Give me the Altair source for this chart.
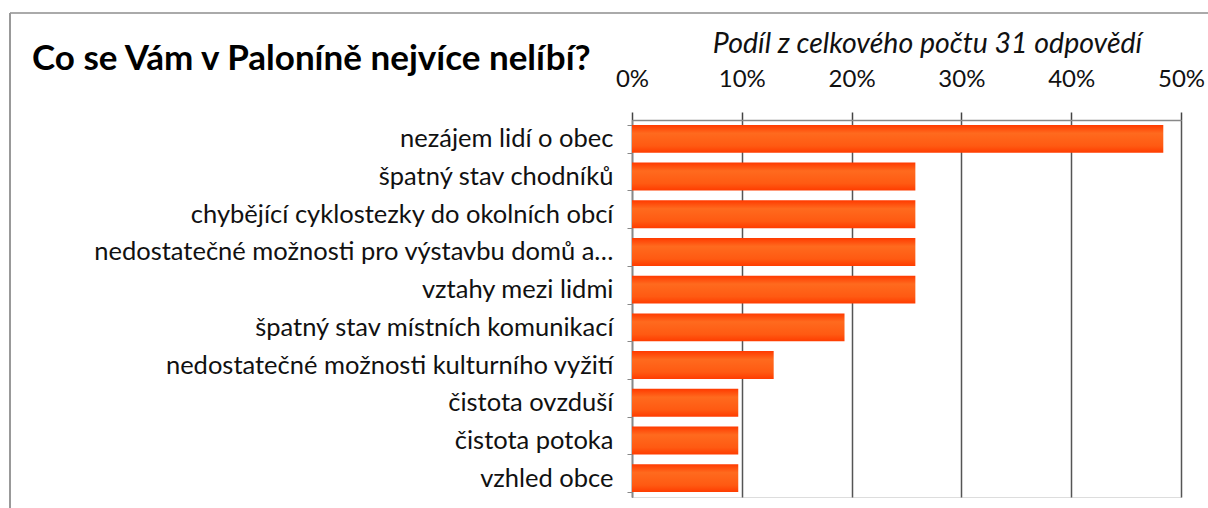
import altair as alt
import pandas as pd

categories = [
    "nezájem lidí o obec",
    "špatný stav chodníků",
    "chybějící cyklostezky do okolních obcí",
    "nedostatečné možnosti pro výstavbu domů a…",
    "vztahy mezi lidmi",
    "špatný stav místních komunikací",
    "nedostatečné možnosti kulturního vyžití",
    "čistota ovzduší",
    "čistota potoka",
    "vzhled obce",
]
counts = [15, 8, 8, 8, 8, 6, 4, 3, 3, 3]
total_responses = 31
tick_values = [0, 0.1, 0.2, 0.3, 0.4, 0.5]

df = pd.DataFrame({"kategorie": categories, "pocet": counts})
df["podil"] = df["pocet"] / total_responses

FONT = "Lato"

bar_fill = alt.Gradient(
    gradient="linear",
    x1=0, x2=0, y1=0, y2=1,
    stops=[
        alt.GradientStop(color="#FF3A00", offset=0),
        alt.GradientStop(color="#FF6A1E", offset=0.3),
        alt.GradientStop(color="#FF5A12", offset=0.75),
        alt.GradientStop(color="#FF3C00", offset=1),
    ],
)

bars = alt.Chart(df).mark_bar(color=bar_fill).encode(
    y=alt.Y(
        "kategorie:N",
        sort=categories,
        scale=alt.Scale(paddingInner=0.26, paddingOuter=0.13),
        axis=alt.Axis(
            title=None,
            labelFont=FONT,
            labelFontSize=25.5,
            labelColor="#111111",
            labelPadding=14,
            labelLimit=700,
            tickBand="extent",
            tickSize=5,
            tickColor="#888888",
            domainColor="#888888",
            domainWidth=1.5,
            grid=False,
        ),
    ),
    x=alt.X(
        "podil:Q",
        scale=alt.Scale(domain=[0, 0.5], nice=False),
        axis=alt.Axis(
            orient="top",
            format=".0%",
            values=tick_values,
            title="Podíl z celkového počtu 31 odpovědí",
            titleFont=FONT,
            titleFontSize=28.5,
            titleFontStyle="italic",
            titleFontWeight="normal",
            titleColor="#111111",
            titleX=295,
            titleY=-68,
            titleBaseline="alphabetic",
            labelFont=FONT,
            labelFontSize=24,
            labelColor="#111111",
            labelPadding=21,
            labelFlush=False,
            tickSize=8,
            tickColor="#444444",
            tickWidth=1.5,
            domainColor="#888888",
            domainWidth=1.5,
            grid=True,
            gridColor="#555555",
            gridWidth=1.5,
        ),
    ),
)

frame_top = alt.Chart(df).mark_rule(color="#aaaaaa", strokeWidth=2).encode(
    x=alt.value(-622), x2=alt.value(576), y=alt.value(-107)
)
frame_left = alt.Chart(df).mark_rule(color="#999999", strokeWidth=2).encode(
    x=alt.value(-622), y=alt.value(-107), y2=alt.value(388)
)

chart = (
    alt.layer(bars, frame_top, frame_left)
    .properties(
        width=549,
        height=377,
        autosize=alt.AutoSizeParams(type="none"),
        padding={"left": 632, "top": 120, "right": 27, "bottom": 11},
        title=alt.TitleParams(
            "Co se Vám v Paloníně nejvíce nelíbí?",
            anchor="start",
            frame="group",
            dx=-600,
            dy=69,
            font=FONT,
            fontSize=35,
            fontWeight="bold",
            color="#000000",
        ),
    )
    .configure_view(stroke=None)
    .configure(background="white")
)

chart.save("out.html", embed_options={"renderer": "svg", "actions": False})
